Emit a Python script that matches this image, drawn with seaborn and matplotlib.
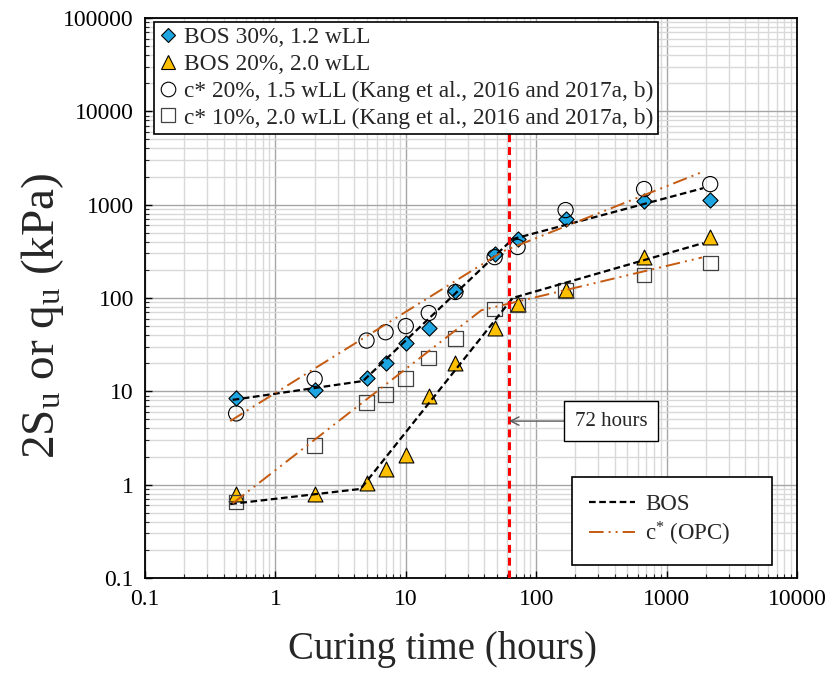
import numpy as np
import pandas as pd
import matplotlib
matplotlib.use("Agg")
import matplotlib.pyplot as plt
import seaborn as sns
from matplotlib.lines import Line2D
from matplotlib.ticker import FixedLocator, LogLocator, NullFormatter

# ---------------- data ----------------
time_h = [0.5, 2, 5, 7, 10, 15, 24, 48, 72, 168, 672, 2160]
bos30 = [8.4, 10.4, 14.0, 20.3, 33.0, 47.5, 118, 296, 428, 700, 1090, 1120]
bos20 = [0.79, 0.79, 1.04, 1.48, 2.07, 8.9, 20.0, 48, 87, 122, 278, 450]
cstar20 = [5.8, 13.6, 35, 43, 50, 69, 116, 274, 352, 875, 1470, 1660]
cstar10 = [0.65, 2.65, 7.65, 9.3, 13.8, 22.7, 37, 76, 84, 120, 176, 237]

# fitted trend lines (vertices)
bos30_fit_x = [0.47, 4.7, 66, 1900]
bos30_fit_y = [8.1, 12.9, 428, 1500]
bos20_fit_x = [0.45, 4.5, 66, 1900]
bos20_fit_y = [0.62, 0.90, 100, 387]
c20_fit_x = [0.45, 56, 1870]
c20_fit_y = [4.8, 318, 2234]
c10_fit_x = [0.47, 38, 1870]
c10_fit_y = [0.63, 74, 272]

red_x = [62, 62]
red_y = [0.1, 9000]

x_ticks = [0.1, 1, 10, 100, 1000, 10000]
x_tick_labels = ["0.1", "1", "10", "100", "1000", "10000"]
y_ticks = [0.1, 1, 10, 100, 1000, 10000, 100000]
y_tick_labels = ["0.1", "1", "10", "100", "1000", "10000", "100000"]

series_labels = ["BOS 30%, 1.2 wLL", "BOS 20%, 2.0 wLL",
                 "c* 20%, 1.5 wLL (Kang et al., 2016 and 2017a, b)",
                 "c* 10%, 2.0 wLL (Kang et al., 2016 and 2017a, b)"]
fit_labels = ["BOS", "c$^{*}$ (OPC)     "]

# ---------------- style ----------------
sns.set_theme(style="white")
plt.rcParams['font.family'] = ['Liberation Serif', 'DejaVu Serif']
plt.rcParams['mathtext.fontset'] = 'custom'
plt.rcParams['mathtext.rm'] = 'Liberation Serif'
plt.rcParams['mathtext.it'] = 'Liberation Serif:italic'
plt.rcParams['mathtext.bf'] = 'Liberation Serif:bold'

BLUE = '#1CA5E0'
GOLD = '#FFC000'
ORANGE = '#C55A11'

fig = plt.figure(figsize=(8.27, 6.73), dpi=100)
ax = fig.add_axes([145/827, 1-578/673, (797-145)/827, (578-18)/673])
ax.set_xscale('log')
ax.set_yscale('log')

df = pd.DataFrame({"t": time_h, "bos30": bos30, "bos20": bos20,
                   "c20": cstar20, "c10": cstar10})

sns.scatterplot(data=df, x="t", y="bos30", marker='D', s=60, color=BLUE,
                edgecolor='black', linewidth=0.8, ax=ax, zorder=3, legend=False)
sns.scatterplot(data=df, x="t", y="bos20", marker='^', s=115, color=GOLD,
                edgecolor='black', linewidth=0.8, ax=ax, zorder=3, legend=False)
sns.scatterplot(data=df, x="t", y="c20", marker='o', s=120, facecolor='none',
                edgecolor='black', linewidth=0.8, ax=ax, zorder=3, legend=False)
sns.scatterplot(data=df, x="t", y="c10", marker='s', s=112, facecolor='none',
                edgecolor='#404040', linewidth=0.9, ax=ax, zorder=3, legend=False)

black_dash = (0, (3, 1.6))
orange_dash = (0, (7.5, 2.6, 1.0, 2.6, 1.0, 2.6))

for fx, fy in [(bos30_fit_x, bos30_fit_y), (bos20_fit_x, bos20_fit_y)]:
    sns.lineplot(x=fx, y=fy, ax=ax, color='black', linewidth=1.6,
                 linestyle=black_dash, sort=False, estimator=None, zorder=4)
for fx, fy in [(c20_fit_x, c20_fit_y), (c10_fit_x, c10_fit_y)]:
    sns.lineplot(x=fx, y=fy, ax=ax, color=ORANGE, linewidth=1.4,
                 linestyle=orange_dash, sort=False, estimator=None, zorder=4)

sns.lineplot(x=red_x, y=red_y, ax=ax, color='#FF0000', linewidth=2.2,
             linestyle=(0, (2.6, 1.6)), sort=False, estimator=None, zorder=5)

ax.set_xlim(0.1, 10000)
ax.set_ylim(0.1, 100000)

ax.xaxis.set_major_locator(FixedLocator(x_ticks))
ax.yaxis.set_major_locator(FixedLocator(y_ticks))
ax.set_xticklabels(x_tick_labels)
ax.set_yticklabels(y_tick_labels)
ax.xaxis.set_minor_locator(LogLocator(base=10, subs=np.arange(2, 10)))
ax.yaxis.set_minor_locator(LogLocator(base=10, subs=np.arange(2, 10)))
ax.xaxis.set_minor_formatter(NullFormatter())
ax.yaxis.set_minor_formatter(NullFormatter())

ax.grid(True, which='major', color='#A6A6A6', linewidth=1.0)
ax.grid(True, which='minor', color='#D9D9D9', linewidth=1.0)
ax.set_axisbelow(True)

ax.tick_params(axis='both', which='major', direction='in', length=5, width=1,
               labelsize=17, colors='black', pad=8)
ax.tick_params(axis='both', which='minor', direction='in', length=3, width=0.8)
ax.tick_params(axis='both', which='both', bottom=True, left=True, top=False, right=False)
for sp in ax.spines.values():
    sp.set_color('black')
    sp.set_linewidth(1.3)

ax.set_xlabel("Curing time (hours)", fontsize=28, labelpad=15)
ax.xaxis.label.set_x((442 - 145) / 652)
ax.set_ylabel("2S$_\\mathrm{u}$ or q$_\\mathrm{u}$ (kPa)", fontsize=34)
ax.yaxis.set_label_coords((66 - 145) / 652, (578 - 316) / 560)

# annotation
ax.annotate("72 hours", xy=(62, 4.8), xytext=(375, 4.8), fontsize=15,
            ha='center', va='center', zorder=6,
            bbox=dict(boxstyle='square,pad=0.5', facecolor='white',
                      edgecolor='black', linewidth=1.0),
            arrowprops=dict(arrowstyle='->', color='#595959', lw=1.0,
                            shrinkA=0, shrinkB=0))

# legends
h1 = [Line2D([], [], marker='D', linestyle='none', markersize=7.6,
             markerfacecolor=BLUE, markeredgecolor='black', markeredgewidth=0.8),
      Line2D([], [], marker='^', linestyle='none', markersize=10.5,
             markerfacecolor=GOLD, markeredgecolor='black', markeredgewidth=0.8),
      Line2D([], [], marker='o', linestyle='none', markersize=10.5,
             markerfacecolor='none', markeredgecolor='black', markeredgewidth=0.8),
      Line2D([], [], marker='s', linestyle='none', markersize=10.2,
             markerfacecolor='none', markeredgecolor='#404040', markeredgewidth=0.9)]
leg1 = ax.legend(h1, series_labels, loc='upper left',
                 bbox_to_anchor=(154/827, 1-22/673), bbox_transform=fig.transFigure,
                 fontsize=16.8, frameon=True, fancybox=False, framealpha=1,
                 edgecolor='black', borderpad=0.22, labelspacing=0.23,
                 handlelength=0.8, handletextpad=0.25, borderaxespad=0)
leg1.get_frame().set_linewidth(1.2)
leg1.set_zorder(10)
ax.add_artist(leg1)

h2 = [Line2D([], [], color='black', linewidth=1.6, linestyle=black_dash),
      Line2D([], [], color=ORANGE, linewidth=1.4, linestyle=orange_dash)]
leg2 = ax.legend(h2, fit_labels, loc='upper left',
                 bbox_to_anchor=(572/827, 1-477/673), bbox_transform=fig.transFigure,
                 fontsize=16.5, frameon=True, fancybox=False, framealpha=1,
                 edgecolor='black', borderpad=0.75, labelspacing=0.2,
                 handlelength=2.0, handletextpad=0.45, borderaxespad=0)
leg2.get_frame().set_linewidth(1.2)
leg2.set_zorder(10)

fig.savefig("out.png", dpi=100)
